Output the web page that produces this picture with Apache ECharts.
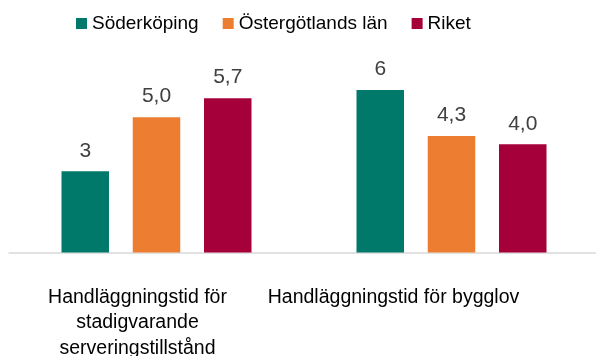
<!DOCTYPE html>
<html>
<head>
<meta charset="utf-8">
<script src="https://cdn.jsdelivr.net/npm/echarts@6/dist/echarts.min.js"></script>
<style>
  html, body { margin: 0; padding: 0; background: #ffffff; }
  #chart { width: 596px; height: 356px; }
</style>
</head>
<body>
<div id="chart"></div>
<script>
// Handläggningstider (veckor) per område
const categories = [
  'Handläggningstid för\nstadigvarande\nserveringstillstånd',
  'Handläggningstid för bygglov'
];
const seriesNames = ['Söderköping', 'Östergötlands län', 'Riket'];
const soderkoping = [3, 6];
const ostergotland = [5.0, 4.3];
const riket = [5.7, 4.0];
// decimals shown on each value label
const decimals = [
  [0, 0],
  [1, 1],
  [1, 1]
];

const colors = ['#00796B', '#ED7D31', '#A6003A'];
const font = '"Liberation Sans", Arial, sans-serif';

const chart = echarts.init(document.getElementById('chart'), null, { renderer: 'canvas' });

function makeSeries(name, values, idx) {
  return {
    name: name,
    type: 'bar',
    data: values,
    barWidth: 47.5,
    barGap: '50%',
    itemStyle: { color: colors[idx] },
    label: {
      show: true,
      position: 'top',
      distance: 10,
      color: '#404040',
      fontFamily: font,
      fontSize: 21,
      formatter: function (p) {
        return p.value.toFixed(decimals[idx][p.dataIndex]).replace('.', ',');
      }
    }
  };
}

chart.setOption({
  animation: false,
  textStyle: { fontFamily: font },
  legend: {
    top: 9,
    left: 71,
    itemWidth: 11,
    itemHeight: 11,
    itemGap: 24,
    icon: 'rect',
    textStyle: { color: '#000000', fontSize: 19, fontFamily: font },
    data: seriesNames
  },
  grid: { left: 9, width: 590, top: 63, bottom: 103.5, containLabel: false, outerBoundsMode: 'none' },
  xAxis: {
    type: 'category',
    data: categories,
    axisLine: { show: true, lineStyle: { color: '#d9d9d9', width: 1.5 } },
    axisTick: { show: false },
    axisLabel: {
      interval: 0,
      margin: 32,
      color: '#000000',
      fontFamily: font,
      fontSize: 19.5,
      lineHeight: 25.5,
      formatter: function (value, index) {
        return '{' + (index === 0 ? 'a' : 'b') + '|' + value + '}';
      },
      rich: {
        a: { fontSize: 19.5, lineHeight: 25.5, color: '#000000', fontFamily: font, padding: [0, 38, 0, 0] },
        b: { fontSize: 19.5, lineHeight: 25.5, color: '#000000', fontFamily: font, padding: [0, 116, 0, 0] }
      }
    }
  },
  yAxis: {
    type: 'value',
    min: 0,
    max: 7,
    show: false,
    splitLine: { show: false }
  },
  series: [
    makeSeries(seriesNames[0], soderkoping, 0),
    makeSeries(seriesNames[1], ostergotland, 1),
    makeSeries(seriesNames[2], riket, 2)
  ]
});
</script>
</body>
</html>
